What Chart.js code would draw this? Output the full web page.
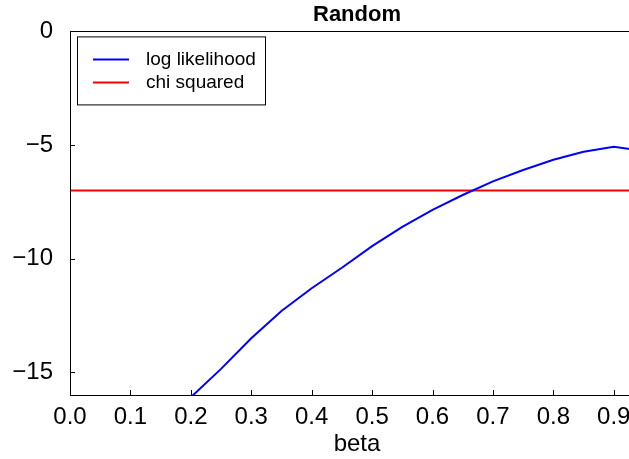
<!DOCTYPE html>
<html>
<head>
<meta charset="utf-8">
<script src="https://cdn.jsdelivr.net/npm/chart.js@4"></script>
<style>
  html, body { margin: 0; padding: 0; background: #fff; overflow: hidden; }
  #wrap { width: 660px; height: 459px; }
</style>
</head>
<body>
<div id="wrap"><canvas id="chart" width="660" height="459"></canvas></div>
<script>
// ── Data ─────────────────────────────────────────────────────────
const BETA    = [0.20, 0.25, 0.30, 0.35, 0.40, 0.45, 0.50, 0.55, 0.60, 0.65, 0.70, 0.75, 0.80, 0.85, 0.90, 0.95];
const LOG_LIK = [-16.1, -14.85, -13.5, -12.3, -11.3, -10.4, -9.45, -8.6, -7.85, -7.2, -6.6, -6.1, -5.65, -5.3, -5.08, -5.26];
const CHI_BETA   = [0.0, 0.95];
const CHI_VALUES = [-7.0, -7.0];

const X_TICKS = [0.0, 0.1, 0.2, 0.3, 0.4, 0.5, 0.6, 0.7, 0.8, 0.9];
const Y_TICKS = [-15, -10, -5, 0];

const TITLE  = "Random";
const XLABEL = "beta";
const FONT   = "'Liberation Sans', Arial, sans-serif";

// ── Marco, ticks hacia dentro, título y leyenda ──────────────────
const framePlugin = {
  id: "frame",
  afterDraw(chart) {
    const { ctx, chartArea: a, scales: { x, y } } = chart;
    ctx.save();
    ctx.strokeStyle = "#000";
    ctx.lineWidth = 1;
    ctx.strokeRect(Math.round(a.left) + 0.5, Math.round(a.top) + 0.5,
                   Math.round(a.right - a.left), Math.round(a.bottom - a.top));

    ctx.beginPath();
    X_TICKS.forEach(v => {
      const px = Math.round(x.getPixelForValue(v)) + 0.5;
      ctx.moveTo(px, a.bottom); ctx.lineTo(px, a.bottom - 5);
    });
    Y_TICKS.forEach(v => {
      const py = Math.round(y.getPixelForValue(v)) + 0.5;
      ctx.moveTo(a.left, py); ctx.lineTo(a.left + 5, py);
    });
    ctx.stroke();

    // título centrado sobre el área del gráfico
    ctx.fillStyle = "#000";
    ctx.font = "bold 22px " + FONT;
    ctx.textAlign = "center";
    ctx.textBaseline = "alphabetic";
    ctx.fillText(TITLE, (a.left + a.right) / 2, 21);

    // leyenda dentro del área
    const lx = a.left + 7, ly = a.top + 5;
    ctx.fillStyle = "#fff";
    ctx.fillRect(lx, ly, 188, 68);
    ctx.strokeStyle = "#000";
    ctx.strokeRect(lx + 0.5, ly + 0.5, 188, 68);
    ctx.font = "19px " + FONT;
    ctx.textAlign = "left";
    chart.data.datasets.forEach((ds, i) => {
      const yy = ly + 23 + i * 23;
      ctx.strokeStyle = ds.borderColor;
      ctx.lineWidth = 2;
      ctx.beginPath();
      ctx.moveTo(lx + 16, yy); ctx.lineTo(lx + 52, yy);
      ctx.stroke();
      ctx.fillStyle = "#000";
      ctx.fillText(ds.label, lx + 69, yy + 6);
    });
    ctx.restore();
  }
};

// ── Chart ────────────────────────────────────────────────────────
new Chart(document.getElementById("chart"), {
  type: "line",
  data: {
    datasets: [
      {
        label: "log likelihood",
        data: BETA.map((b, i) => ({ x: b, y: LOG_LIK[i] })),
        borderColor: "#0000ff", borderWidth: 2,
        pointRadius: 0, tension: 0, fill: false,
      },
      {
        label: "chi squared",
        data: CHI_BETA.map((b, i) => ({ x: b, y: CHI_VALUES[i] })),
        borderColor: "#ff0000", borderWidth: 2,
        pointRadius: 0, tension: 0, fill: false,
      }
    ]
  },
  options: {
    responsive: false,
    animation: false,
    devicePixelRatio: 1,
    layout: { padding: { top: 26, right: 16, left: 0, bottom: 0 } },
    plugins: {
      legend: { display: false },
      title: { display: false },
      tooltip: { enabled: false },
    },
    scales: {
      x: {
        type: "linear", min: 0, max: 0.95,
        grid: { display: false, drawTicks: false },
        border: { display: false },
        afterBuildTicks: s => { s.ticks = X_TICKS.map(v => ({ value: v })); },
        afterFit: s => { s.height = 64; },
        ticks: {
          color: "#000", padding: 8, maxRotation: 0, autoSkip: false,
          font: { family: FONT, size: 24 },
          callback: v => Number(v).toFixed(1),
        },
        title: {
          display: true, text: XLABEL, color: "#000",
          font: { family: FONT, size: 24, lineHeight: 1 },
          padding: { top: 0, bottom: 3 },
        },
      },
      y: {
        type: "linear", min: -16, max: 0,
        grid: { display: false, drawTicks: false },
        border: { display: false },
        afterBuildTicks: s => { s.ticks = Y_TICKS.map(v => ({ value: v })); },
        afterFit: s => { s.width = 70; },
        ticks: {
          color: "#000", padding: 17, autoSkip: false,
          font: { family: FONT, size: 24 },
          callback: v => String(v).replace("-", "\u2212"),
        },
      },
    },
  },
  plugins: [framePlugin],
});
</script>
</body>
</html>
